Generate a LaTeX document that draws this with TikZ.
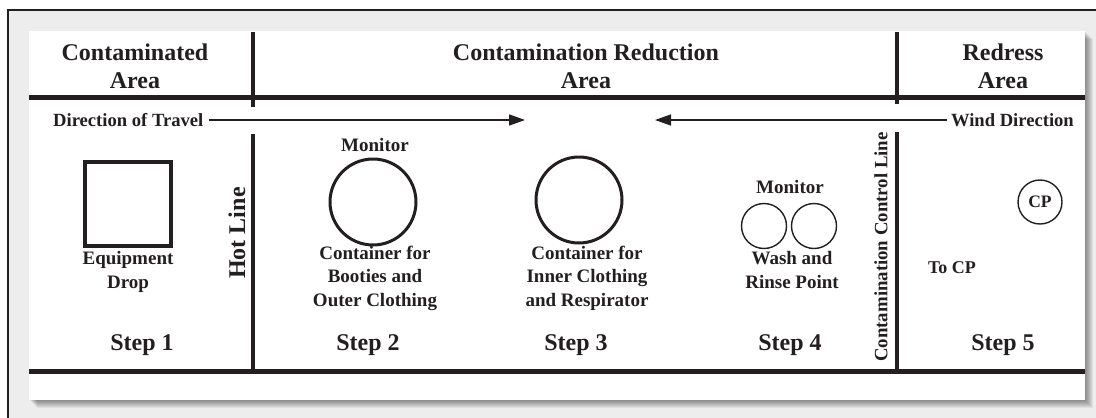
\documentclass[tikz,border=0pt]{standalone}
\usepackage{fontspec}
\setmainfont{Liberation Serif}
\usetikzlibrary{arrows.meta}
\definecolor{ink}{RGB}{35,31,32}
\begin{document}
\begin{tikzpicture}[x=1pt,y=-1pt,
  hdr/.style={font=\fontsize{24}{28}\selectfont\bfseries, align=center, inner sep=0pt, text=ink},
  body/.style={font=\fontsize{19}{23.5}\selectfont\bfseries, align=center, inner sep=0pt, text=ink},
  steplbl/.style={font=\fontsize{24}{28}\selectfont\bfseries, inner sep=0pt, text=ink},
  small/.style={font=\fontsize{18.6}{20}\selectfont\bfseries, inner sep=0pt, text=ink},
  divider/.style={line width=5pt, draw=ink},
  vdivider/.style={line width=4.5pt, draw=ink},
  flow/.style={line width=1.6pt, draw=ink, -{Triangle[length=16pt,width=11pt]}},
  bigbin/.style={circle, draw=ink, line width=3pt, minimum size=86pt, inner sep=0pt},
  smallbin/.style={circle, draw=ink, line width=1.4pt, minimum size=45pt, inner sep=0pt},
  dropbox/.style={rectangle, draw=ink, line width=3.5pt, minimum width=86pt, minimum height=84pt, inner sep=0pt},
]
\useasboundingbox (0,0) rectangle (1096,418);
\clip (0,0) rectangle (1096,418);
% background and outer frame
\fill[white] (0,0) rectangle (1096,418);
\fill[black!7] (8,10) rectangle (1100,422);
\draw[ink, line width=2.5pt] (8,422) -- (8,10) -- (1100,10);
% panel shadow
\foreach \i in {1,...,8} {
  \fill[black, opacity=0.06] (29+\i,31+\i) rectangle (1085+\i,400+\i);
}
\fill[white] (29,31) rectangle (1085,400);

% dividers
\coordinate (hTopL) at (29,97);
\coordinate (hTopR) at (1085,97);
\coordinate (hBotL) at (29,371);
\coordinate (hBotR) at (1085,371);
\draw[divider] (hTopL) -- (hTopR);
\draw[divider] (hBotL) -- (hBotR);
\coordinate (hotA) at (253,32);
\coordinate (hotB) at (253,107);
\coordinate (hotC) at (253,134);
\coordinate (hotD) at (253,373);
\draw[vdivider] (hotA) -- (hotB);
\draw[vdivider] (hotC) -- (hotD);
\coordinate (cclA) at (897,32);
\coordinate (cclB) at (897,104);
\coordinate (cclC) at (897,132);
\coordinate (cclD) at (897,373);
\draw[vdivider] (cclA) -- (cclB);
\draw[vdivider] (cclC) -- (cclD);

% headers
\node[hdr] (hA) at (135,66) {Contaminated\\Area};
\node[hdr] (hB) at (586,66) {Contamination Reduction\\Area};
\node[hdr] (hC) at (1003,66) {Redress\\Area};

% arrows
\node[small, anchor=west] (travel) at (53,120) {Direction of Travel};
\coordinate (travelTip) at (525,120);
\draw[flow, shorten <=5pt] (travel.east) -- (travelTip);
\node[small, anchor=east] (wind) at (1074,120) {Wind Direction};
\coordinate (windTip) at (655,120);
\draw[flow, shorten <=4pt] (wind.west) -- (windTip);

% vertical labels
\node[hdr, rotate=90] (hot) at (237,233) {Hot Line};
\node[body, font=\fontsize{18.8}{20}\selectfont\bfseries, rotate=90] (ccl) at (881,247) {Contamination Control Line};

% step 1
\node[dropbox] (drop) at (128,204) {};
\node[body] (dropTxt) at (128,272) {Equipment\\Drop};

% step 2
\node[body] (mon2) at (375,145) {Monitor};
\node[bigbin] (bin2) at (373,202) {};
\node[body] (bin2Txt) at (375,278) {Container for\\Booties and\\Outer Clothing};

% step 3
\node[bigbin] (bin3) at (579,200) {};
\node[body] (bin3Txt) at (587,278) {Container for\\Inner Clothing\\and Respirator};

% step 4
\node[body] (mon4) at (790,187) {Monitor};
\node[smallbin] (wash) at (764,226) {};
\node[smallbin] (rinse) at (814,226) {};
\node[body] (washTxt) at (792,270) {Wash and\\Rinse Point};

% step 5
\node[smallbin, minimum size=44pt, font=\fontsize{17.5}{18}\selectfont\bfseries, text=ink] (cp) at (1040,202) {CP};
\node[body, font=\fontsize{18}{20}\selectfont\bfseries] (tocp) at (952,268) {To CP};

% step labels
\node[steplbl] (s1) at (142,345) {Step 1};
\node[steplbl] (s2) at (368,345) {Step 2};
\node[steplbl] (s3) at (576,345) {Step 3};
\node[steplbl] (s4) at (790,345) {Step 4};
\node[steplbl] (s5) at (1003,345) {Step 5};
\end{tikzpicture}
\end{document}
